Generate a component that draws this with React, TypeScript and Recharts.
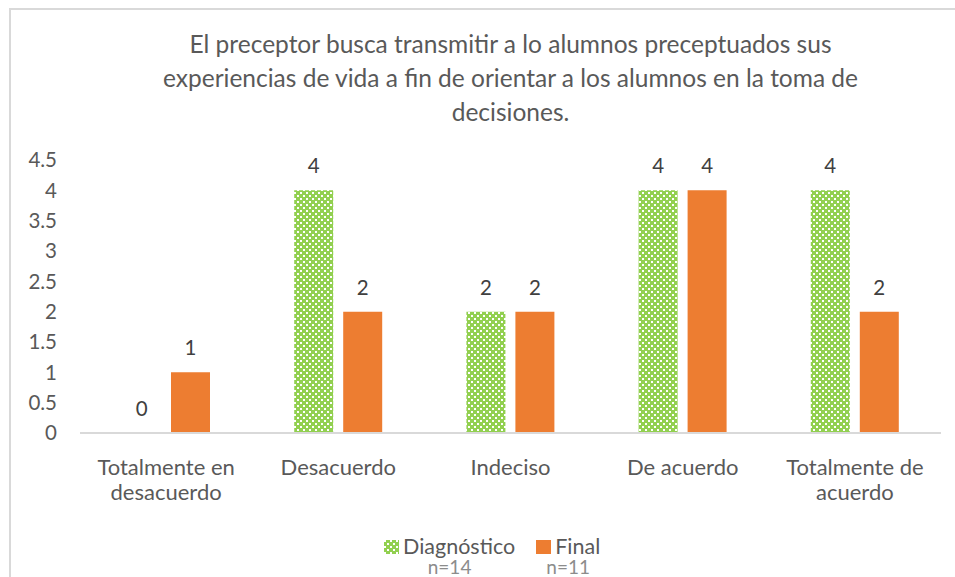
import React from 'react';
import { BarChart, Bar, XAxis, YAxis, LabelList, ReferenceDot } from 'recharts';

const categories = ['Totalmente en desacuerdo', 'Desacuerdo', 'Indeciso', 'De acuerdo', 'Totalmente de acuerdo'];
const diagnostico = [0, 4, 2, 4, 4];
const final = [1, 2, 2, 4, 2];
const yTicks = [0, 0.5, 1, 1.5, 2, 2.5, 3, 3.5, 4, 4.5];
const titleLines = [
  'El preceptor busca transmitir a lo alumnos preceptuados sus',
  'experiencias de vida a fin de orientar a los alumnos en la toma de',
  'decisiones.',
];
const legendItems = [
  { name: 'Diagnóstico', n: 'n=14' },
  { name: 'Final', n: 'n=11' },
];

const data = categories.map((c, i) => ({ cat: c, diag: diagnostico[i], fin: final[i] }));

const FONT = 'Lato, "Open Sans", sans-serif';
const GREEN = '#92d050';
const ORANGE = '#ed7d31';
const BAR = 39;
const GAP = 10;

// split long category names on two lines the way the reference wraps them
const wrap = (s: string) => {
  if (s === 'Totalmente en desacuerdo') return ['Totalmente en', 'desacuerdo'];
  if (s === 'Totalmente de acuerdo') return ['Totalmente de', 'acuerdo'];
  return [s];
};

const CatTick = ({ x, y, payload }: any) => (
  <text x={x} y={y} textAnchor="middle" fill="#595959" fontSize={22} fontFamily={FONT}>
    {wrap(payload.value).map((l, i) => (
      <tspan key={i} x={x} dy={i === 0 ? 34 : 25}>{l}</tspan>
    ))}
  </text>
);

const ValueLabel = (p: any) => (
  <text
    x={p.x + p.width / 2}
    y={p.y - 25}
    textAnchor="middle"
    dominantBaseline="central"
    fill="#404040"
    fontSize={20.5}
    fontFamily={FONT}
  >
    {p.value}
  </text>
);

// zero-height bars get no label from recharts, so put the "0" on a reference dot
const ZeroLabel = (p: any) => {
  const vb = p.viewBox || {};
  return (
    <text
      x={vb.x + vb.width / 2 + p.shift}
      y={vb.y - 25}
      textAnchor="middle"
      dominantBaseline="central"
      fill="#404040"
      fontSize={20.5}
      fontFamily={FONT}
    >
      0
    </text>
  );
};

const Swatch = ({ fill }: { fill: string }) => (
  <svg width={15} height={14} style={{ display: 'block' }}>
    <defs>
      <pattern id="chkLeg" width={6} height={6} patternUnits="userSpaceOnUse">
        <rect width={6} height={6} fill={GREEN} />
        <rect x={0} y={0} width={2} height={2} fill="#fff" />
        <rect x={3} y={3} width={2} height={2} fill="#fff" />
      </pattern>
    </defs>
    <rect width={15} height={14} fill={fill} />
  </svg>
);

export default function App() {
  return (
    <div style={{ position: 'relative', width: 955, height: 577, overflow: 'hidden', background: '#fff' }}>
      <style>{`html,body{margin:0;overflow:hidden}`}</style>
      <div
        style={{
          position: 'absolute', left: 9, top: 8, width: 980, height: 620,
          borderLeft: '2px solid #d9d9d9', borderTop: '2px solid #d9d9d9', boxSizing: 'border-box',
        }}
      />
      <div
        style={{
          position: 'absolute', left: 80, width: 861, top: 27, textAlign: 'center',
          fontFamily: FONT, fontSize: 24.5, lineHeight: '34px', color: '#595959',
        }}
      >
        {titleLines.map((l) => (
          <div key={l}>{l}</div>
        ))}
      </div>
      <div style={{ position: 'absolute', left: 0, top: 0 }}>
        <BarChart
          width={955}
          height={577}
          data={data}
          margin={{ top: 160, right: 14, bottom: 64, left: 10 }}
          barSize={BAR}
          barGap={GAP}
        >
          <defs>
            <pattern id="chk" width={6} height={6} patternUnits="userSpaceOnUse">
              <rect width={6} height={6} fill={GREEN} />
              <rect x={0} y={0} width={2} height={2} fill="#fff" />
              <rect x={3} y={3} width={2} height={2} fill="#fff" />
            </pattern>
          </defs>
          <XAxis
            dataKey="cat"
            height={80}
            interval={0}
            tickLine={false}
            axisLine={{ stroke: '#d9d9d9', strokeWidth: 2 }}
            tick={<CatTick />}
          />
          <YAxis
            width={70}
            domain={[0, 4.5]}
            ticks={yTicks}
            tickLine={false}
            axisLine={false}
            tickMargin={17}
            tick={{ fontSize: 20.5, fill: '#595959', fontFamily: FONT }}
          />
          <Bar dataKey="diag" name="Diagnóstico" fill="url(#chk)" isAnimationActive={false}>
            <LabelList dataKey="diag" content={<ValueLabel />} />
          </Bar>
          <Bar dataKey="fin" name="Final" fill={ORANGE} isAnimationActive={false}>
            <LabelList dataKey="fin" content={<ValueLabel />} />
          </Bar>
          {data.map((d) => [
            d.diag === 0 ? (
              <ReferenceDot key={`zd-${d.cat}`} x={d.cat} y={0} r={0} stroke="none" fill="none"
                label={<ZeroLabel shift={-(BAR + GAP) / 2} />} />
            ) : null,
            d.fin === 0 ? (
              <ReferenceDot key={`zf-${d.cat}`} x={d.cat} y={0} r={0} stroke="none" fill="none"
                label={<ZeroLabel shift={(BAR + GAP) / 2} />} />
            ) : null,
          ])}
        </BarChart>
      </div>
      <div style={{ position: 'absolute', left: 384, top: 536, display: 'flex', gap: 21, fontFamily: FONT }}>
        {legendItems.map((it, i) => (
          <div key={it.name} style={{ display: 'flex', flexDirection: 'column', alignItems: 'center' }}>
            <div style={{ display: 'flex', alignItems: 'center', gap: 4, fontSize: 21.5, color: '#595959', lineHeight: '21px' }}>
              <Swatch fill={i === 0 ? 'url(#chkLeg)' : ORANGE} />
              <span>{it.name}</span>
            </div>
            <div style={{ fontSize: 19, color: '#8c8c8c', lineHeight: '20px' }}>{it.n}</div>
          </div>
        ))}
      </div>
    </div>
  );
}
